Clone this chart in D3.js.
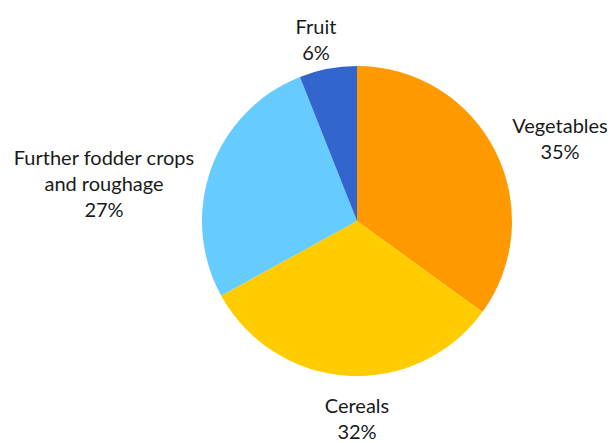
<!DOCTYPE html>
<html><head><meta charset="utf-8">
<script src="https://cdn.jsdelivr.net/npm/d3@7"></script>
<style>body{margin:0;background:#fff}text{font-family:Lato,"Noto Sans",sans-serif;fill:#1a1a1a}</style>
</head><body><svg id="c" width="616" height="443"></svg>
<script>
const categories = ["Vegetables","Cereals","Further fodder crops\nand roughage","Fruit"];
const values = [35,32,27,6];
const colors = ["#FF9900","#FFCC00","#66CCFF","#3366CC"];
// label anchor points (layout only)
const labelX = [560,357,104,316];
const labelY = [126,406,158,27];

const svg = d3.select("#c");
const cx = 357, cy = 221, r = 155;
const pie = d3.pie().sort(null).value(d=>d.v);
const arc = d3.arc().innerRadius(0).outerRadius(r);
const data = categories.map((c,i)=>({c, v:values[i], col:colors[i], i}));
const g = svg.append("g").attr("transform",`translate(${cx},${cy})`);
g.selectAll("path").data(pie(data)).join("path")
  .attr("d",arc).attr("fill",d=>d.data.col);

data.forEach((d,i)=>{
  const lines = d.c.split("\n").concat([d.v+"%"]);
  const t = svg.append("text").attr("text-anchor","middle")
    .attr("font-size",20);
  lines.forEach((l,k)=>{
    t.append("tspan").attr("x",labelX[i]).attr("y",labelY[i]+k*26).attr("dy","0.35em").text(l);
  });
});
</script></body></html>
